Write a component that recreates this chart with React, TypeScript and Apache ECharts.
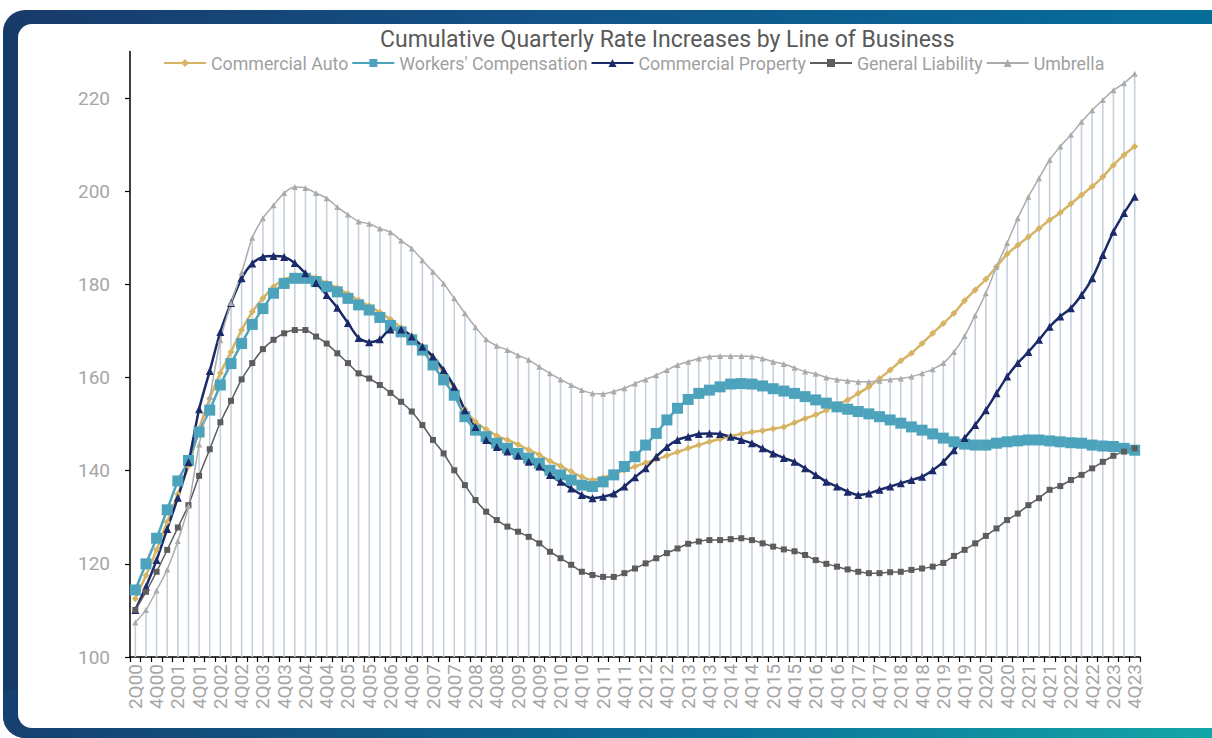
import React, { useEffect, useRef } from "react";
import * as echarts from "echarts";

const categories = [
  "2Q00","3Q00","4Q00",
  "1Q01","2Q01","3Q01","4Q01","1Q02","2Q02","3Q02","4Q02","1Q03","2Q03","3Q03","4Q03",
  "1Q04","2Q04","3Q04","4Q04","1Q05","2Q05","3Q05","4Q05","1Q06","2Q06","3Q06","4Q06",
  "1Q07","2Q07","3Q07","4Q07","1Q08","2Q08","3Q08","4Q08","1Q09","2Q09","3Q09","4Q09",
  "1Q10","2Q10","3Q10","4Q10","1Q11","2Q11","3Q11","4Q11","1Q12","2Q12","3Q12","4Q12",
  "1Q13","2Q13","3Q13","4Q13","1Q14","2Q14","3Q14","4Q14","1Q15","2Q15","3Q15","4Q15",
  "1Q16","2Q16","3Q16","4Q16","1Q17","2Q17","3Q17","4Q17","1Q18","2Q18","3Q18","4Q18",
  "1Q19","2Q19","3Q19","4Q19","1Q20","2Q20","3Q20","4Q20","1Q21","2Q21","3Q21","4Q21",
  "1Q22","2Q22","3Q22","4Q22","1Q23","2Q23","3Q23","4Q23",
];

const commercialAuto = [
  112.5,117.5,123,129,135,141,149,155.5,161,165.5,170.2,174.1,177,179.5,181,181.8,182,181.4,180.3,179.2,
  178,176.6,175.4,174,172.5,170.7,168.8,166.7,164,161,157.5,153.2,150.5,148.9,147.5,146.6,145.6,144.5,143.4,142.1,
  141,139.8,138.7,138,138.5,139.3,140.1,140.9,141.7,142.4,143.2,144,144.8,145.5,146.2,146.8,147.4,147.9,148.3,148.6,
  149,149.4,150.3,151.2,152,153,154.1,155.2,156.6,158,159.8,161.6,163.6,165.2,167.3,169.5,171.6,173.8,176.5,178.8,
  181.1,183.8,186.5,188.4,190.2,192,193.8,195.4,197.3,199.2,201,203.1,205.6,207.8,209.6,
];

const workersComp = [
  114.4,120,125.5,131.6,137.8,142.2,148.3,153,158.4,163,167.3,171.4,174.8,178.1,180.2,181.3,181.3,180.6,179.5,178.4,
  177,175.6,174.5,172.9,171.2,169.8,168.1,165.9,162.7,159.5,156.2,151.6,148.7,147.3,145.9,144.8,143.7,142.7,141.6,140.1,
  139.1,138,136.9,136.6,137.6,139.1,140.9,143,145.5,148,150.9,153.4,155.3,156.6,157.3,158,158.6,158.7,158.6,158.2,
  157.6,157.1,156.6,155.9,155.2,154.5,153.7,153.2,152.7,152.2,151.6,150.9,150.2,149.4,148.7,147.9,147,146.2,145.7,145.5,
  145.5,145.9,146.2,146.4,146.6,146.6,146.4,146.2,146,145.9,145.5,145.3,145.2,144.8,144.4,
];

const commercialProperty = [
  110.1,115.1,120.8,127.5,134.2,141.8,153.2,161.4,169.8,176,181.3,184.5,185.9,186.1,185.9,184.6,182.4,180.3,177.7,175,
  171.7,168.5,167.6,168.2,170.3,170.3,168.8,166.6,164.5,161.6,158,153,149.4,146.6,145.1,144.1,143.2,141.9,140.9,139.1,
  137.6,136.2,134.8,134.1,134.4,135.1,136.6,138.6,140.5,143,145.1,146.6,147.3,147.9,148,147.9,147.3,146.6,145.9,144.8,
  143.7,142.7,141.9,140.5,139.1,137.6,136.6,135.5,134.8,135.1,135.9,136.6,137.3,138,138.7,140.1,141.9,144.4,147,149.8,
  153,156.6,160.2,163.1,165.5,168.1,170.9,173.1,174.9,177.7,181.3,186.3,191.3,195.3,198.8,
];

const generalLiability = [
  110.1,114,118.3,123,127.8,132.6,138.9,144.6,150.4,155,159.6,163.1,166.1,168.1,169.5,170.2,170.2,168.8,167.3,165.2,
  163.1,160.9,159.8,158.4,156.7,154.8,152.7,149.8,146.6,143.7,140.1,136.9,133.7,131.2,129.4,128,126.9,125.8,124.4,122.6,
  121.2,119.8,118.3,117.6,117.2,117.2,118,119,120.1,121.2,122.3,123.3,124.3,124.8,125.1,125.1,125.3,125.5,125.1,124.4,
  123.7,123.1,122.7,121.9,120.8,120,119.4,118.8,118.3,118,118,118.2,118.3,118.7,119,119.4,120.2,121.7,123,124.4,
  126,127.6,129.4,130.8,132.6,134.1,135.9,136.7,138,139.1,140.5,141.9,143.2,144.1,144.8,
];

const umbrella = [
  107.4,110.1,114.3,118.8,124.9,132.4,145.6,155.8,168,176,182.5,190,194.2,197,199.6,200.9,200.7,199.6,198.5,196.6,
  195,193.5,193,192,191.2,189.4,187.7,185.2,182.7,180.2,177,173.8,170.8,168.2,166.8,165.9,164.8,163.8,162.3,160.9,
  159.6,158.4,157.3,156.6,156.5,157,157.7,158.7,159.6,160.5,161.6,162.7,163.4,164.1,164.5,164.6,164.6,164.6,164.5,164.1,
  163.4,162.9,162.1,161.3,160.8,160,159.6,159.3,159.1,159.1,159.3,159.6,159.8,160.2,160.9,161.8,163.1,165.5,168.9,173.4,
  178.1,183.8,188.9,194.2,198.8,202.8,206.7,209.6,212.1,214.9,217.4,219.6,221.7,223.2,225.2,
];

const yTickValues = [100, 120, 140, 160, 180, 200, 220];

const seriesNames = [
  "Commercial Auto",
  "Workers' Compensation",
  "Commercial Property",
  "General Liability",
  "Umbrella",
];

export default function App() {
  const ref = useRef<HTMLDivElement>(null);

  useEffect(() => {
    if (!ref.current) return;
    const chart = echarts.init(ref.current, null, { renderer: "svg" });
    const font = "Roboto";
    const lineSeries = (
      name: string,
      data: number[],
      color: string,
      width: number,
      symbol: string,
      size: number
    ) => ({
      name,
      type: "line",
      data,
      smooth: 0.25,
      symbol,
      symbolSize: size,
      showAllSymbol: true,
      lineStyle: { color, width },
      itemStyle: { color, borderWidth: 0 },
      z: 3,
    });
    chart.setOption({
      animation: false,
      title: {
        text: "Cumulative Quarterly Rate Increases by Line of Business",
        left: 380,
        top: 28,
        padding: 0,
        textStyle: {
          fontFamily: font,
          fontSize: 23,
          fontWeight: "normal",
          color: "#595959",
        },
      },
      legend: {
        data: seriesNames,
        left: 163,
        top: 54,
        padding: 0,
        itemWidth: 42,
        itemHeight: 10,
        itemGap: 3,
        textStyle: { fontFamily: font, fontSize: 17.8, color: "#a0a0a0" },
      },
      grid: { left: 130, right: 72, top: 51.5, bottom: 81, containLabel: false },
      xAxis: {
        type: "category",
        data: categories,
        boundaryGap: true,
        axisLine: { show: true, lineStyle: { color: "#000", width: 1.5 } },
        axisTick: { show: true, interval: 0, length: 5, lineStyle: { color: "#000", width: 1.2 } },
        axisLabel: {
          interval: 1,
          rotate: 90,
          fontFamily: font,
          fontSize: 19,
          color: "#a6a6a6",
          margin: 7,
        },
        splitLine: { show: false },
      },
      yAxis: {
        type: "value",
        min: 100,
        max: 230,
        interval: 20,
        axisLine: { show: true, lineStyle: { color: "#000", width: 1.5 } },
        axisTick: { show: true, length: 5, customValues: yTickValues, lineStyle: { color: "#000", width: 1.2 } },
        axisLabel: {
          customValues: yTickValues,
          fontFamily: font,
          fontSize: 19,
          color: "#a6a6a6",
          margin: 20,
        },
        splitLine: { show: false },
      },
      series: [
        {
          name: "drop",
          type: "bar",
          data: umbrella,
          barWidth: 1.6,
          silent: true,
          itemStyle: { color: "#c3d1df" },
          z: 1,
        },
        lineSeries(seriesNames[0], commercialAuto, "#d6b465", 2.5, "diamond", 7),
        lineSeries(seriesNames[1], workersComp, "#4da3bc", 2.5, "rect", 11),
        lineSeries(seriesNames[2], commercialProperty, "#1b2a68", 2.5, "triangle", 8),
        lineSeries(seriesNames[3], generalLiability, "#5c5c5c", 1.5, "rect", 6),
        lineSeries(seriesNames[4], umbrella, "#ababab", 1.5, "triangle", 6),
      ],
    });
    return () => chart.dispose();
  }, []);

  return (
    <div style={{ position: "fixed", left: 0, top: 0, width: 1212, height: 738, overflow: "hidden", background: "#fff" }}>
      <div
        style={{
          position: "absolute",
          left: 3,
          top: 10,
          width: 1260,
          height: 728,
          borderRadius: 22,
          background: "linear-gradient(90deg, #183a69 0%, #12548a 45%, #05709b 100%)",
        }}
      />
      <div
        style={{
          position: "absolute",
          left: 3,
          top: 690,
          width: 1260,
          height: 48,
          borderBottomLeftRadius: 22,
          background: "linear-gradient(90deg, #16406f 0%, #0b6f9a 55%, #14aba7 100%)",
        }}
      />
      <div
        style={{
          position: "absolute",
          left: 18,
          top: 24,
          width: 1240,
          height: 704,
          borderRadius: "14px 0 0 14px",
          background: "#fff",
        }}
      />
      <div ref={ref} style={{ position: "absolute", left: 0, top: 0, width: 1212, height: 738 }} />
    </div>
  );
}
